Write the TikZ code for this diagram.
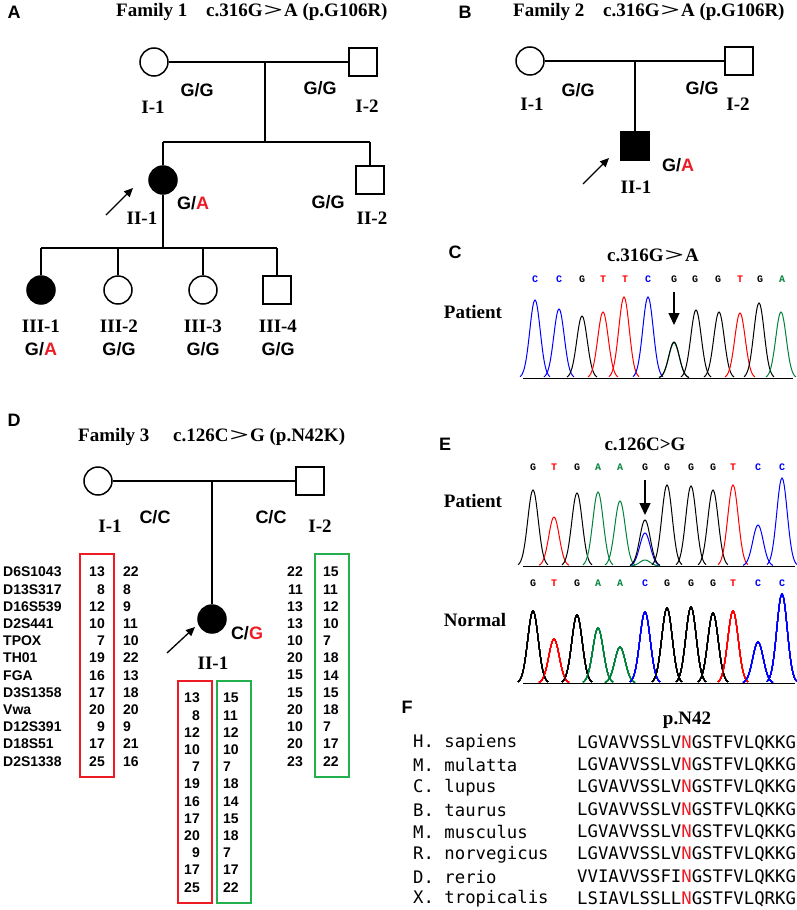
\documentclass[tikz,border=0pt]{standalone}
\usepackage{graphicx}
\usepackage{fontspec}
\setmainfont{Liberation Serif}
\setsansfont{Liberation Sans}
\setmonofont{DejaVu Sans Mono}
\newfontfamily\nucfont{Liberation Mono}
\usetikzlibrary{arrows.meta}

\definecolor{mutred}{RGB}{237,28,36}
\definecolor{hapred}{RGB}{237,28,36}
\definecolor{hapgreen}{RGB}{34,177,76}
\definecolor{trA}{RGB}{0,130,60}
\definecolor{trC}{RGB}{0,0,255}
\definecolor{trG}{RGB}{0,0,0}
\definecolor{trT}{RGB}{255,0,0}

% wide "greater than" of the titles
\newcommand{\wgt}{\kern1pt\scalebox{1.8}[1]{>}\kern1pt}

\tikzset{
  female/.style={circle, draw, line width=1.5pt, minimum size=28pt, inner sep=0pt},
  male/.style={rectangle, draw, line width=1.5pt, minimum size=28pt, inner sep=0pt},
  affected/.style={fill=black},
  panel/.style={font=\sffamily\bfseries\fontsize{18}{20}\selectfont, inner sep=0pt},
  ttl/.style={font=\bfseries\fontsize{19}{21}\selectfont, inner sep=0pt},
  lbl/.style={font=\bfseries\fontsize{19}{21}\selectfont, inner sep=0pt},
  gt/.style={font=\sffamily\bfseries\fontsize{18}{20}\selectfont, inner sep=0pt},
  str/.style={font=\sffamily\bfseries\fontsize{14}{16}\selectfont, inner sep=0pt},
  aln/.style={font=\ttfamily\fontsize{17.3}{19}\selectfont, inner sep=0pt},
  nuc/.style={font=\nucfont\bfseries\fontsize{10}{12}\selectfont, inner sep=0pt},
  hapbox/.style={line width=1.5pt},
  proband/.style={-{Triangle[length=9pt,width=8pt]}, line width=1.3pt},
  mutarrow/.style={-{Triangle[length=12pt,width=11pt]}, line width=1.3pt},
  ped/.style={line width=1.5pt}
}

% one trace peak: colour, centre, height, baseline
\newcommand{\peak}[4]{%
  \draw[#1, line width=1pt] plot[variable=\t, domain=-15:15, samples=31, smooth]
    ({#2+\t}, {#4-#3*exp(-(\t*\t)/55)});}

\begin{document}
\begin{tikzpicture}[x=1pt, y=-1pt]
\useasboundingbox (0,0) rectangle (796,910);

% Panel letters
\node[panel] (lA) at (14,12) {A};
\node[panel] (lB) at (465,12) {B};
\node[panel] (lC) at (455,252) {C};
\node[panel] (lD) at (14,420) {D};
\node[panel] (lE) at (445,444) {E};
\node[panel] (lF) at (407,707) {F};

% Family 1
\node[ttl, anchor=west] (tA1) at (116,12) {Family 1};
\node[ttl, anchor=west] (tA2) at (206,12) {c.316G\wgt A (p.G106R)};
\node[female] (a11) at (154,62) {};
\node[male] (a12) at (363,62) {};
\node[female, affected] (a21) at (163,180) {};
\node[male] (a22) at (370,180) {};
\node[female, affected] (a31) at (41,290) {};
\node[female] (a32) at (118,290) {};
\node[female] (a33) at (203,290) {};
\node[male] (a34) at (277,290) {};
\coordinate (a1m) at (265,62);
\coordinate (a1s) at (265,142);
\coordinate (a1l) at (163,142);
\coordinate (a1r) at (370,142);
\coordinate (a2s) at (163,248);
\coordinate (a2l) at (41,248);
\coordinate (a2a) at (118,248);
\coordinate (a2b) at (203,248);
\coordinate (a2r) at (277,248);
\draw[ped] (a11) -- (a12);
\draw[ped] (a1m) -- (a1s);
\draw[ped] (a1l) -- (a1r);
\draw[ped] (a1l) -- (a21);
\draw[ped] (a1r) -- (a22);
\draw[ped] (a21) -- (a2s);
\draw[ped] (a2l) -- (a2r);
\draw[ped] (a2l) -- (a31);
\draw[ped] (a2a) -- (a32);
\draw[ped] (a2b) -- (a33);
\draw[ped] (a2r) -- (a34);
\node[gt] (ga11) at (197,90) {G/G};
\node[lbl] (ia11) at (153,107) {I-1};
\node[gt] (ga12) at (320,88) {G/G};
\node[lbl] (ia12) at (367,106) {I-2};
\node[gt] (ga21) at (193,203) {G/\textcolor{mutred}{A}};
\node[lbl] (ia21) at (142,218) {II-1};
\node[gt] (ga22) at (328,202) {G/G};
\node[lbl] (ia22) at (372,218) {II-2};
\node[lbl] (ia31) at (41,326) {III-1};
\node[lbl] (ia32) at (119,326) {III-2};
\node[lbl] (ia33) at (203,326) {III-3};
\node[lbl] (ia34) at (278,326) {III-4};
\node[gt] (ga31) at (41,349) {G/\textcolor{mutred}{A}};
\node[gt] (ga32) at (119,349) {G/G};
\node[gt] (ga33) at (203,349) {G/G};
\node[gt] (ga34) at (278,349) {G/G};
\coordinate (pa0) at (106,215);
\coordinate (pa1) at (133,188);
\draw[proband] (pa0) -- (pa1);

% Family 2
\node[ttl, anchor=west] (tB1) at (513,12) {Family 2};
\node[ttl, anchor=west] (tB2) at (603,12) {c.316G\wgt A (p.G106R)};
\node[female] (b11) at (530,61) {};
\node[male] (b12) at (739,61) {};
\node[male, affected] (b21) at (635,146) {};
\coordinate (b1m) at (635,61);
\draw[ped] (b11) -- (b12);
\draw[ped] (b1m) -- (b21);
\node[gt] (gb11) at (578,90) {G/G};
\node[lbl] (ib11) at (532,104) {I-1};
\node[gt] (gb12) at (702,88) {G/G};
\node[lbl] (ib12) at (738,104) {I-2};
\node[gt] (gb21) at (678,165) {G/\textcolor{mutred}{A}};
\node[lbl] (ib21) at (636,187) {II-1};
\coordinate (pb0) at (583,184);
\coordinate (pb1) at (609,158);
\draw[proband] (pb0) -- (pb1);

% Sequencing trace c.316G>A
\node[ttl] (tC) at (653,255) {c.316G\wgt A};
\node[lbl] (pC) at (473,312) {Patient};
\foreach \px/\b in {535/C, 559/C, 582/G, 603/T, 625/T, 648/C, 674/G, 695/G, 718/G, 740/T, 760/G, 782/A}
  \node[nuc, text=tr\b] at (\px,279) {\b};
\draw[trG, line width=0.8pt] (523,378) -- (793,378);
\foreach \px/\ph/\b in {535/78/C, 559/69/C, 582/62/G, 603/66/T, 624/81/T, 648/81/C, 674/35/A, 674/36/G, 696/68/G, 719/66/G, 740/65/T, 759/75/G, 781/66/A}
  \peak{tr\b}{\px}{\ph}{378}
\coordinate (mc0) at (674,292);
\coordinate (mc1) at (674,325);
\draw[mutarrow] (mc0) -- (mc1);

% Family 3
\node[ttl, anchor=west] (tD1) at (78,437) {Family 3};
\node[ttl, anchor=west] (tD2) at (173,437) {c.126C\wgt G (p.N42K)};
\node[female] (d11) at (98,481) {};
\node[male] (d12) at (310,481) {};
\node[female, affected] (d21) at (212,619) {};
\coordinate (d1m) at (212,481);
\draw[ped] (d11) -- (d12);
\draw[ped] (d1m) -- (d21);
\node[gt] (gd11) at (155,517) {C/C};
\node[lbl] (id11) at (110,526) {I-1};
\node[gt] (gd12) at (271,517) {C/C};
\node[lbl] (id12) at (320,526) {I-2};
\node[gt] (gd21) at (247,633) {C/\textcolor{mutred}{G}};
\node[lbl] (id21) at (213,663) {II-1};
\coordinate (pd0) at (167,653);
\coordinate (pd1) at (195,627);
\draw[proband] (pd0) -- (pd1);

% STR haplotypes
\foreach \mk/\ma/\mb/\fa/\fb [count=\i from 0] in {
  D6S1043/13/22/22/15, D13S317/8/8/11/11, D16S539/12/9/13/12, D2S441/10/11/13/10,
  TPOX/7/10/10/7, TH01/19/22/20/18, FGA/16/13/15/14, D3S1358/17/18/15/15,
  Vwa/20/20/20/18, D12S391/9/9/10/7, D18S51/17/21/20/17, D2S1338/25/16/23/22}{
  \node[str, anchor=west] (m\i) at (3,{572+17.2*\i}) {\mk};
  \node[str, anchor=east] (ma\i) at (105,{572+17.2*\i}) {\ma};
  \node[str, anchor=west] (mb\i) at (123,{572+17.2*\i}) {\mb};
  \node[str, anchor=east] (fa\i) at (303,{572+17.2*\i}) {\fa};
  \node[str, anchor=west] (fb\i) at (323,{572+17.2*\i}) {\fb};
  \node[str, anchor=east] (ca\i) at (200,{698+17.2*\i}) {\ma};
  \node[str, anchor=west] (cb\i) at (223,{698+17.2*\i}) {\fb};
}
\draw[hapbox, hapred] (80,554) rectangle (114,777);
\draw[hapbox, hapgreen] (315,554) rectangle (349,777);
\draw[hapbox, hapred] (178,681) rectangle (212,903);
\draw[hapbox, hapgreen] (217,681) rectangle (251,903);

% Sequencing traces c.126C>G
\node[ttl] (tE) at (645,444) {c.126C>G};
\node[lbl] (pE) at (473,501) {Patient};
\node[lbl] (nE) at (475,620) {Normal};
\foreach \px/\b in {533/G, 554/T, 577/G, 598/A, 620/A, 645/G, 667/G, 691/G, 713/G, 733/T, 758/C, 782/C}
  \node[nuc, text=tr\b] at (\px,467) {\b};
\foreach \px/\b in {533/G, 554/T, 577/G, 598/A, 620/A, 645/C, 667/G, 691/G, 713/G, 733/T, 758/C, 782/C}
  \node[nuc, text=tr\b] at (\px,583) {\b};
\draw[trG, line width=0.8pt] (523,566) -- (795,566);
\draw[trG, line width=0.8pt] (523,683) -- (795,683);
\foreach \px/\ph/\b in {533/76/G, 554/49/T, 577/73/G, 598/74/A, 620/65/A, 645/6/A, 645/33/C, 645/46/G, 667/81/G, 691/80/G, 713/76/G, 733/81/T, 758/41/C, 782/88/C}
  \peak{tr\b}{\px}{\ph}{566}
\foreach \px/\ph/\b in {533/72/G, 554/44/T, 577/68/G, 598/55/A, 620/36/A, 645/71/C, 667/75/G, 691/76/G, 713/70/G, 733/72/T, 758/41/C, 782/89/C}
  \peak{tr\b}{\px}{\ph}{683}
\coordinate (me0) at (645,480);
\coordinate (me1) at (645,515);
\draw[mutarrow] (me0) -- (me1);

% Conservation
\node[ttl] (tF) at (687,720) {p.N42};
\foreach \sp/\pre/\post [count=\i from 0] in {
  H. sapiens/LGVAVVSSLV/GSTFVLQKKG, M. mulatta/LGVAVVSSLV/GSTFVLQKKG,
  C. lupus/LGVAVVSSLV/GSTFVLQKKG, B. taurus/LGVAVVSSLV/GSTFVLQKKG,
  M. musculus/LGVAVVSSLV/GSTFVLQKKG, R. norvegicus/LGVAVVSSLV/GSTFVLQKKG,
  D. rerio/VVIAVVSSFI/GSTFVLQKKG, X. tropicalis/LSIAVLSSLL/GSTFVLQRKG}{
  \node[aln, anchor=west] (sp\i) at (413,{743+22.3*\i}) {\sp};
  \node[aln, anchor=west] (sq\i) at (577,{743+22.3*\i}) {\pre\textcolor{mutred}{N}\post};
}

\end{tikzpicture}
\end{document}
